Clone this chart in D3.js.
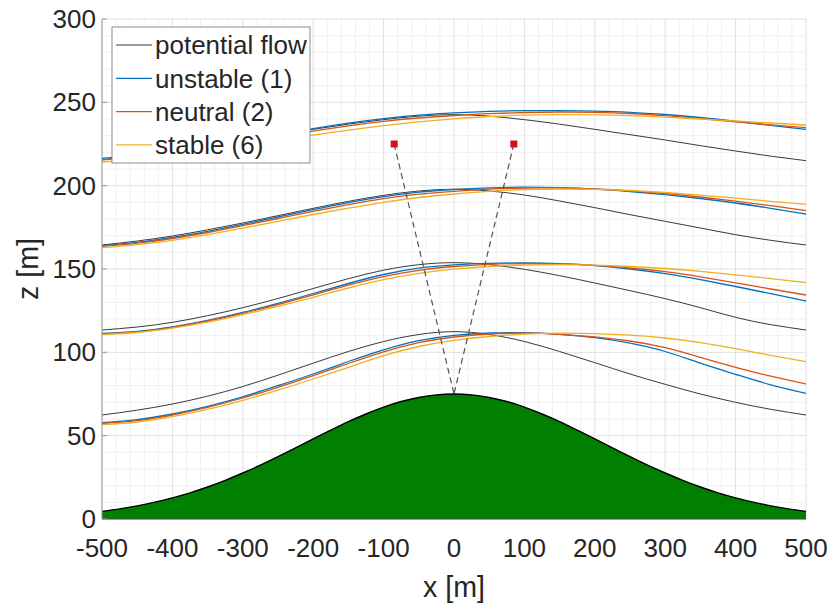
<!DOCTYPE html>
<html><head><meta charset="utf-8">
<script src="https://cdn.jsdelivr.net/npm/d3@7"></script>
<style>
html,body{margin:0;padding:0;background:#fff;}
svg text{font-family:"Liberation Sans",Arial,Helvetica,sans-serif;fill:#262626;}
</style></head>
<body><svg id="c" width="833" height="608"></svg>
<script>
// ---- data ----
const xTicks = [-500,-400,-300,-200,-100,0,100,200,300,400,500];
const zTicks = [0,50,100,150,200,250,300];
const hillX = [-500,-475,-450,-425,-400,-375,-350,-325,-300,-275,-250,-225,-200,-175,-150,-125,-100,-75,-50,-25,0,25,50,75,100,125,150,175,200,225,250,275,300,325,350,375,400,425,450,475,500];
const hillZ = [4.6,6.1,7.9,10.1,12.7,15.7,19.2,23.2,27.6,32.3,37.4,42.7,48.1,53.3,58.4,63.0,67.1,70.5,72.9,74.5,75,74.5,72.9,70.5,67.1,63.0,58.4,53.3,48.1,42.7,37.4,32.3,27.6,23.2,19.2,15.7,12.7,10.1,7.9,6.1,4.6];
const lineX = [-500,-450,-400,-350,-300,-250,-200,-150,-100,-50,0,50,100,150,200,250,300,350,400,450,500];
// streamline 1 (lowest)
const potential1 = [62.4,65.3,69,73.7,79.5,86.3,93.5,100.5,106.5,110.7,112.4,110.7,106.5,100.5,93.8,87,80.8,75,70,65.8,62.4];
const unstable1  = [57.8,59.6,63,67.6,73.3,80,87,94.5,101.5,107,110.2,111.6,111.8,110.8,108.8,105.5,100.5,93.5,86.8,80.5,75.4];
const neutral1   = [57.3,59,62.4,67,72.6,79,86,93.3,100.3,105.8,109.2,111,111.5,110.8,109.3,106.8,102.8,97,91,85.7,81];
const stable1    = [56.6,58.2,61.4,65.8,71.2,77.3,84,91,98,103.5,107.2,109.5,110.9,111.5,111.2,110.3,108.6,105.8,102.2,98.2,94.4];
// streamline 2
const potential2 = [113.4,115.2,118,122,126.8,132.3,138.3,144.2,149.3,152.6,153.8,152.6,149.8,146,141.6,137,132.2,126.8,121,116.6,113.4];
const unstable2  = [111.3,112.6,115.3,119.2,124,129.4,135.3,141.3,146.7,150.5,152.5,153.4,153.6,153.2,152,150,147.2,143.6,139.5,135.2,130.8];
const neutral2   = [111,112.3,115,118.8,123.4,128.7,134.5,140.3,145.4,149.2,151.5,152.8,153.3,153.1,152.2,150.6,148.4,145.3,141.7,138,134.4];
const stable2    = [110.6,111.9,114.5,118.1,122.6,127.6,133,138.6,143.6,147.4,149.9,151.5,152.4,152.6,152.3,151.5,150.3,148.6,146.5,144.2,141.8];
// streamline 3
const potential3 = [164.4,166.8,169.8,173.5,177.6,182,186.4,190.6,194.2,196.8,197.8,196.8,194.4,190.8,186.8,182.6,178.6,174.6,170.6,167.2,164.4];
const unstable3  = [164,166,168.9,172.6,176.8,181.2,185.6,189.8,193.4,196.1,197.7,198.7,199.1,198.8,197.9,196.5,194.6,192.3,189.6,186.4,183];
const neutral3   = [163.6,165.5,168.3,171.9,176,180.3,184.6,188.6,192.2,194.9,196.6,197.9,198.6,198.6,198,196.9,195.3,193.2,190.7,188,185];
const stable3    = [162.8,164.6,167.2,170.6,174.5,178.6,182.7,186.5,190,192.9,195,196.6,197.6,198,197.8,197.1,195.9,194.3,192.5,190.6,188.8];
// streamline 4 (highest)
const potential4 = [215.5,217.6,220.2,223.4,226.9,230.4,233.8,236.9,239.6,241.7,242.6,241.7,239.6,236.9,233.8,230.6,227.4,224,220.8,217.7,215];
const unstable4  = [216.4,218.1,220.5,223.4,226.8,230.5,234.2,237.5,240.2,242.3,243.7,244.6,245,245,244.7,244,242.7,240.9,238.6,236.2,233.8];
const neutral4   = [215.5,217.1,219.4,222.3,225.6,229.2,232.7,235.9,238.6,240.6,242.1,243.2,243.9,244.2,244,243.3,242,240.3,238.3,236.5,234.8];
const stable4    = [214.2,215.7,218,220.7,223.7,227,230.3,233.3,236,238.3,240.1,241.5,242.3,242.6,242.5,242,241.1,240,238.8,237.6,236.4];
// sensor markers and beam apex
const markerX = [-85, 85];
const markerZ = [225, 225];
const apexX = 0, apexZ = 75;
const legendLabels = ["potential flow","unstable (1)","neutral (2)","stable (6)"];
const seriesColors = ["#3a3a3a","#0072BD","#D95319","#EDB120"];

// ---- layout ----
const svg = d3.select("#c");
const L = 102, R = 806, T = 19, B = 519;
const x = d3.scaleLinear().domain([-500,500]).range([L,R]);
const z = d3.scaleLinear().domain([0,300]).range([B,T]);

svg.append("defs").append("clipPath").attr("id","clip")
  .append("rect").attr("x",L).attr("y",T).attr("width",R-L).attr("height",B-T);

// grid
const g = svg.append("g");
d3.range(-500,501,20).forEach(v=>{
  g.append("line").attr("x1",x(v)).attr("x2",x(v)).attr("y1",T).attr("y2",B)
   .attr("stroke", v%100===0 ? "#e0e0e0" : "#f0f0f0").attr("stroke-width",1);
});
d3.range(0,301,10).forEach(v=>{
  g.append("line").attr("x1",L).attr("x2",R).attr("y1",z(v)).attr("y2",z(v))
   .attr("stroke", v%50===0 ? "#e0e0e0" : "#f0f0f0").attr("stroke-width",1);
});

const plot = svg.append("g").attr("clip-path","url(#clip)");

// hill
const hillPts = hillX.map((v,i)=>[v,hillZ[i]]);
plot.append("path").datum(hillPts)
  .attr("d", d3.area().x(d=>x(d[0])).y0(z(0)).y1(d=>z(d[1])).curve(d3.curveNatural))
  .attr("fill","#007f00");
plot.append("path").datum(hillPts)
  .attr("d", d3.line().x(d=>x(d[0])).y(d=>z(d[1])).curve(d3.curveNatural))
  .attr("fill","none").attr("stroke","#000").attr("stroke-width",1.4);

// streamlines
const groups = [
  [potential1,unstable1,neutral1,stable1],
  [potential2,unstable2,neutral2,stable2],
  [potential3,unstable3,neutral3,stable3],
  [potential4,unstable4,neutral4,stable4]
];
const line = d3.line().x(d=>x(d[0])).y(d=>z(d[1])).curve(d3.curveNatural);
groups.forEach(grp=>{
  grp.forEach((arr,k)=>{
    plot.append("path").datum(lineX.map((v,i)=>[v,arr[i]]))
      .attr("d",line).attr("fill","none")
      .attr("stroke",seriesColors[k]).attr("stroke-width", k===0?1:1.3);
  });
});

// dashed beams
markerX.forEach((mx,i)=>{
  plot.append("line").attr("x1",x(mx)).attr("y1",z(markerZ[i]))
    .attr("x2",x(apexX)).attr("y2",z(apexZ))
    .attr("stroke","#555").attr("stroke-width",1.2).attr("stroke-dasharray","6,4");
});
markerX.forEach((mx,i)=>{
  plot.append("rect").attr("x",x(mx)-3.5).attr("y",z(markerZ[i])-3.5)
    .attr("width",7).attr("height",7).attr("fill","#d4111b");
});

// axes
const ax = svg.append("g");
ax.append("line").attr("x1",L).attr("x2",L).attr("y1",T).attr("y2",B).attr("stroke","#9a9a9a");
ax.append("line").attr("x1",L).attr("x2",R).attr("y1",B).attr("y2",B).attr("stroke","#4a4a4a").attr("stroke-width",1.2);
zTicks.forEach(v=>{
  ax.append("line").attr("x1",L).attr("x2",L+5).attr("y1",z(v)).attr("y2",z(v)).attr("stroke","#9a9a9a");
  ax.append("text").attr("x",L-6).attr("y",z(v)).attr("dy","0.34em")
    .attr("text-anchor","end").attr("font-size",26).text(v);
});
xTicks.forEach(v=>{
  ax.append("text").attr("x",x(v)).attr("y",B+38)
    .attr("text-anchor","middle").attr("font-size",26).text(v);
});
svg.append("text").attr("x",x(0)).attr("y",597).attr("text-anchor","middle")
  .attr("font-size",28.6).text("x [m]");
svg.append("text").attr("transform",`translate(38,${z(150)}) rotate(-90)`)
  .attr("text-anchor","middle").attr("font-size",28.6).text("z [m]");

// legend
const lg = svg.append("g");
lg.append("rect").attr("x",112).attr("y",27).attr("width",198).attr("height",136)
  .attr("fill","#fff").attr("stroke","#8c8c8c").attr("stroke-width",1);
legendLabels.forEach((lab,i)=>{
  const yy = 45 + i*33.3;
  lg.append("line").attr("x1",116).attr("x2",152).attr("y1",yy).attr("y2",yy)
    .attr("stroke",seriesColors[i]).attr("stroke-width", i===0?1:1.3);
  lg.append("text").attr("x",155).attr("y",yy).attr("dy","0.36em")
    .attr("font-size",26).text(lab);
});
</script></body></html>
